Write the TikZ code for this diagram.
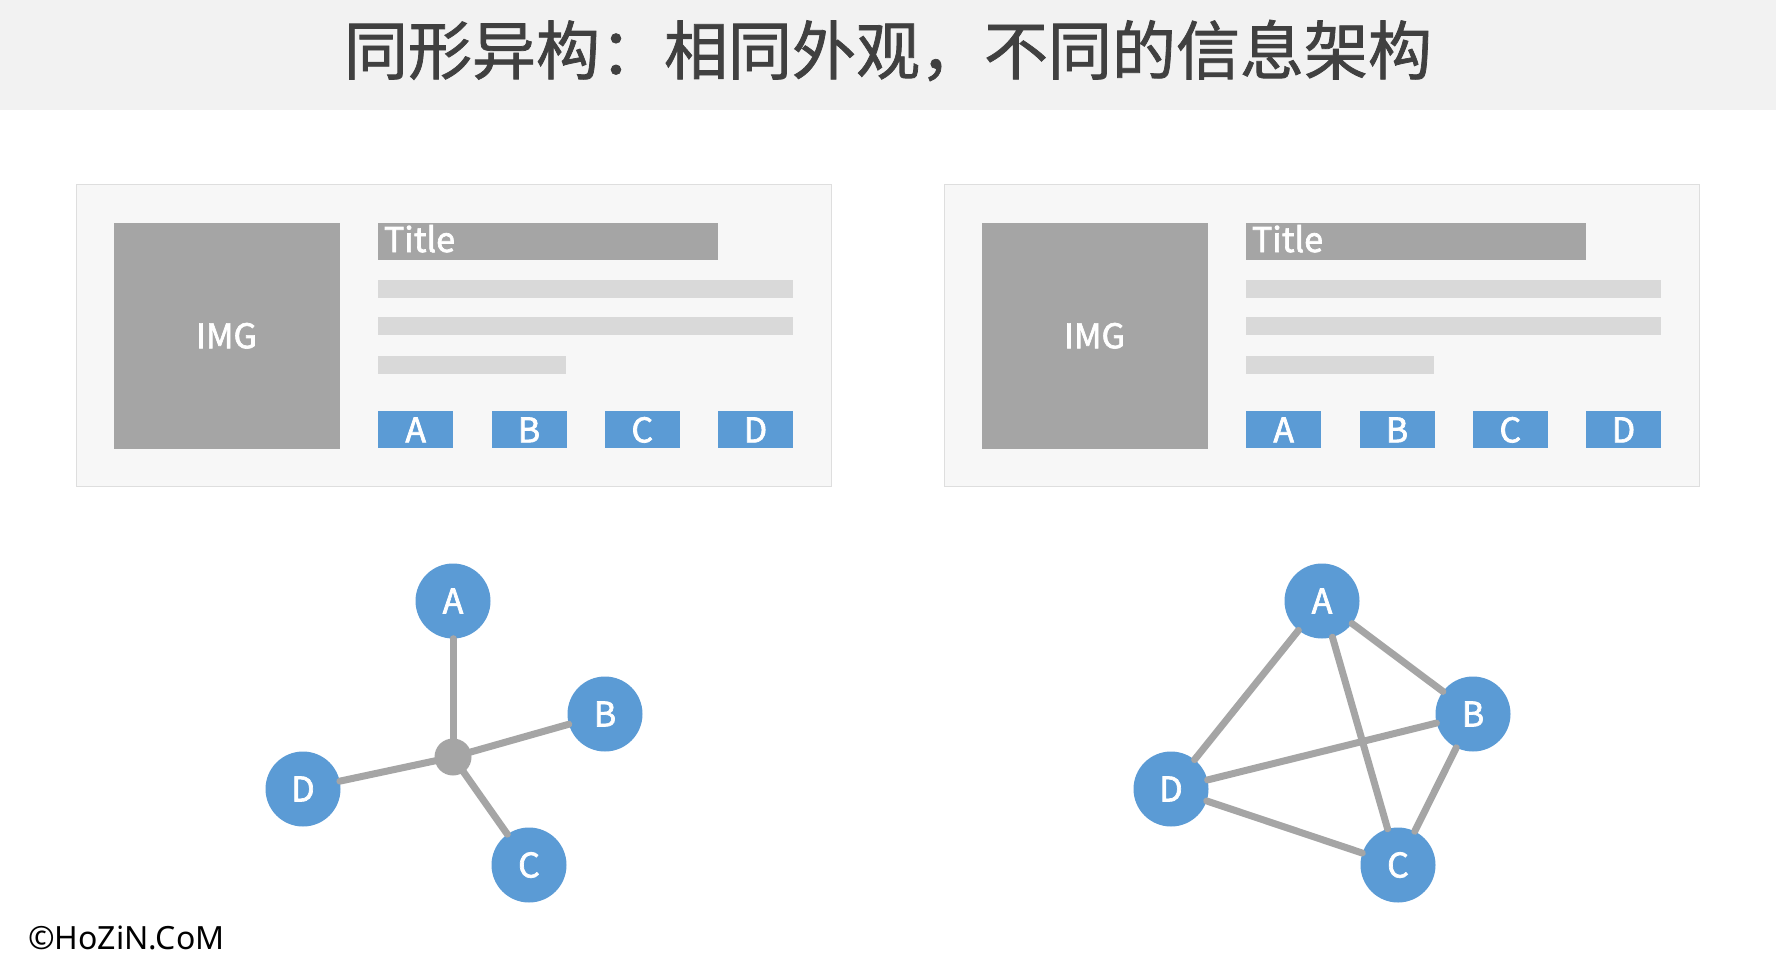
\documentclass[tikz,border=0pt]{standalone}
\usepackage{fontspec}
\setmainfont{Noto Sans CJK SC}
\newfontfamily\lblfont{Noto Sans CJK SC}[FakeBold=2]
\newfontfamily\headfont{Noto Sans CJK SC}[FakeBold=1.2]
\newfontfamily\notosans{Noto Sans}
\definecolor{bandgray}{HTML}{F2F2F2}
\definecolor{titlegray}{HTML}{404040}
\definecolor{cardfill}{HTML}{F7F7F7}
\definecolor{cardline}{HTML}{DEDEDE}
\definecolor{midgray}{HTML}{A5A5A5}
\definecolor{lightgray}{HTML}{D9D9D9}
\definecolor{bluefill}{HTML}{5B9BD5}
\begin{document}
\begin{tikzpicture}[x=1pt,y=-1pt,
  box/.style={rectangle,inner sep=0pt,outer sep=0pt},
  lbl/.style={text=white,font=\lblfont\fontsize{34}{38}\selectfont},
  cardbox/.style={box,fill=cardfill,draw=cardline,line width=1.2pt,minimum width=755pt,minimum height=302pt},
  imgbox/.style={box,fill=midgray,minimum width=226pt,minimum height=226pt,lbl},
  titlebar/.style={box,fill=midgray,minimum width=340pt,minimum height=37pt},
  textbar/.style={box,fill=lightgray,minimum height=18pt},
  btn/.style={box,fill=bluefill,minimum width=75pt,minimum height=37pt,lbl},
  gnode/.style={circle,fill=bluefill,inner sep=0pt,minimum size=75pt,lbl},
  hubnode/.style={circle,fill=midgray,inner sep=0pt,minimum size=37pt},
  edge/.style={draw=midgray,line width=7pt,line cap=round}
]
\useasboundingbox (0,0) rectangle (1776,979);
\fill[white] (0,0) rectangle (1776,979);
% header
\node[box,fill=bandgray,minimum width=1776pt,minimum height=110pt] (band) at (888,55) {};
\node[text=titlegray,font=\headfont\fontsize{64}{70}\selectfont,inner sep=0pt] (title) at (888,50.5) {同形异构：相同外观，不同的信息架构};
% cards
\foreach \s/\dx in {L/0,R/868}{
  \begin{scope}[xshift=\dx pt]
    \node[cardbox] (card\s) at (453.6,335.8) {};
    \node[imgbox] (img\s) at (226.5,335.8) {IMG};
    \node[titlebar] (tbar\s) at (548.2,241.8) {};
    \node[box,anchor=base west,lbl] (ttext\s) at (384,252) {Title};
    \node[textbar,minimum width=414.6pt] (line1\s) at (585.6,288.9) {};
    \node[textbar,minimum width=414.6pt] (line2\s) at (585.6,326.3) {};
    \node[textbar,minimum width=188pt] (line3\s) at (472.3,364.8) {};
    \node[btn] (btnA\s) at (415.7,429.9) {A};
    \node[btn] (btnB\s) at (529.0,429.9) {B};
    \node[btn] (btnC\s) at (642.3,429.9) {C};
    \node[btn] (btnD\s) at (755.5,429.9) {D};
  \end{scope}
}
% left graph (star)
\node[hubnode] (hub) at (453,757) {};
\node[gnode] (la) at (453,601) {A};
\node[gnode] (lb) at (605,714) {B};
\node[gnode] (lc) at (529,865) {C};
\node[gnode] (ld) at (303,789) {D};
\draw[edge] (la) -- (hub.center);
\draw[edge] (lb) -- (hub.center);
\draw[edge] (lc) -- (hub.center);
\draw[edge] (ld) -- (hub.center);
% right graph (complete)
\node[gnode] (ra) at (1322,601) {A};
\node[gnode] (rb) at (1473,714) {B};
\node[gnode] (rc) at (1398,865) {C};
\node[gnode] (rd) at (1171,789) {D};
\draw[edge] (ra) -- (rd);
\draw[edge] (ra) -- (rb);
\draw[edge] (ra) -- (rc);
\draw[edge] (rd) -- (rb);
\draw[edge] (rd) -- (rc);
\draw[edge] (rb) -- (rc);
% copyright
\node[anchor=west,inner sep=0pt,font=\notosans\fontsize{32}{36}\selectfont] (copy) at (28,938) {©HoZiN.CoM};
\end{tikzpicture}
\end{document}
